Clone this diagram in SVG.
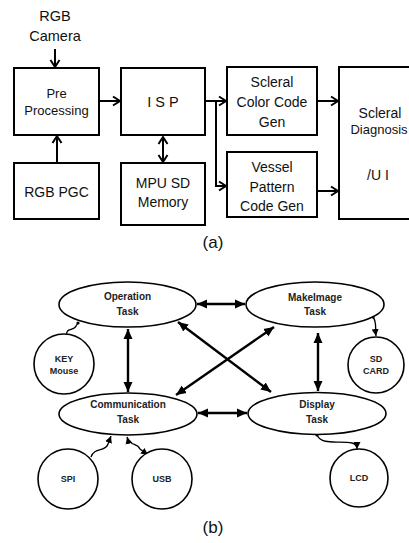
<svg xmlns="http://www.w3.org/2000/svg" width="409" height="543" viewBox="0 0 409 543">
<style>
.bx{fill:#fff;stroke:#000;stroke-width:2}
.ta{font-family:"Liberation Sans",Arial,sans-serif;font-size:13.5px;fill:#111;text-anchor:middle}
.cap{font-family:"Liberation Sans",Arial,sans-serif;font-size:17px;fill:#111;text-anchor:middle}
.ca{fill:none;stroke:#000;stroke-width:2}
.el{fill:#fff;stroke:#000;stroke-width:1.6}
.tb{font-family:"Liberation Sans",Arial,sans-serif;font-size:10px;font-weight:bold;fill:#222;text-anchor:middle}
.tbs{font-family:"Liberation Sans",Arial,sans-serif;font-size:9px;font-weight:bold;fill:#222;text-anchor:middle}
.cb{fill:none;stroke:#000;stroke-width:2.4}
.wv{fill:none;stroke:#000;stroke-width:1.3}
</style>
<defs>
<marker id="oa" markerUnits="userSpaceOnUse" markerWidth="12" markerHeight="12" refX="8" refY="5" orient="auto-start-reverse" viewBox="0 0 12 10">
<path d="M1,0.5 L8,5 L1,9.5" fill="none" stroke="#000" stroke-width="2"/>
</marker>
<marker id="fa" markerUnits="userSpaceOnUse" markerWidth="11" markerHeight="10" refX="10" refY="4.5" orient="auto-start-reverse" viewBox="0 0 11 9">
<path d="M0,0 L10,4.5 L0,9 Z" fill="#000"/>
</marker>
<marker id="sa" markerUnits="userSpaceOnUse" markerWidth="8" markerHeight="8" refX="7" refY="3.5" orient="auto-start-reverse" viewBox="0 0 8 7">
<path d="M0,0 L7,3.5 L0,7 Z" fill="#000"/>
</marker>
</defs>

<g id="connectors-a">
<line class="ca" x1="55" y1="49" x2="55" y2="67" marker-end="url(#oa)"/>
<line class="ca" x1="99" y1="101" x2="120" y2="101" marker-end="url(#oa)"/>
<line class="ca" x1="57" y1="163" x2="57" y2="136" marker-end="url(#oa)"/>
<line class="ca" x1="163" y1="137" x2="163" y2="162" marker-start="url(#oa)" marker-end="url(#oa)"/>
<line class="ca" x1="205" y1="101" x2="226" y2="101" marker-end="url(#oa)"/>
<polyline class="ca" points="216,101 216,186 226,186" marker-end="url(#oa)"/>
<line class="ca" x1="317" y1="101" x2="338" y2="101" marker-end="url(#oa)"/>
<line class="ca" x1="317" y1="191" x2="338" y2="191" marker-end="url(#oa)"/>
</g>

<g id="rgb-camera">
<text class="ta" x="55" y="21" style="font-size:14.5px">RGB</text>
<text class="ta" x="55" y="41" style="font-size:14.5px">Camera</text>
</g>
<g id="pre-processing">
<rect class="bx" x="14" y="68" width="85" height="67"/>
<text class="ta" x="56.5" y="98" style="font-size:13px">Pre</text>
<text class="ta" x="56.5" y="115" style="font-size:13px">Processing</text>
</g>
<g id="isp">
<rect class="bx" x="121" y="68" width="84" height="67"/>
<text class="ta" x="163" y="107" style="font-size:14.5px">I S P</text>
</g>
<g id="rgb-pgc">
<rect class="bx" x="14" y="163" width="85" height="56"/>
<text class="ta" x="56.5" y="197" style="font-size:14px">RGB PGC</text>
</g>
<g id="mpu-sd-memory">
<rect class="bx" x="121" y="163" width="84" height="62"/>
<text class="ta" x="163" y="188" style="font-size:14px">MPU SD</text>
<text class="ta" x="163" y="207" style="font-size:14px">Memory</text>
</g>
<g id="scleral-color">
<rect class="bx" x="227" y="67" width="90" height="68"/>
<text class="ta" x="272" y="87" style="font-size:14px">Scleral</text>
<text class="ta" x="272" y="107" style="font-size:14px">Color Code</text>
<text class="ta" x="272" y="127" style="font-size:14px">Gen</text>
</g>
<g id="vessel-pattern">
<rect class="bx" x="227" y="152" width="90" height="65"/>
<text class="ta" x="272" y="172" style="font-size:14px">Vessel</text>
<text class="ta" x="272" y="192" style="font-size:14px">Pattern</text>
<text class="ta" x="272" y="211" style="font-size:14px">Code Gen</text>
</g>
<g id="scleral-diagnosis">
<rect class="bx" x="339" y="67" width="80" height="152"/>
<text class="ta" x="380" y="118" style="font-size:14px">Scleral</text>
<text class="ta" x="379" y="134" style="font-size:13px">Diagnosis</text>
<text class="ta" x="378" y="180" style="font-size:14px">/U I</text>
</g>
<text class="cap" x="213" y="248">(a)</text>

<g id="connectors-b">
<line class="cb" x1="197" y1="304" x2="245" y2="304" marker-start="url(#fa)" marker-end="url(#fa)"/>
<line class="cb" x1="128" y1="329" x2="128" y2="392" marker-start="url(#fa)" marker-end="url(#fa)"/>
<line class="cb" x1="318" y1="333" x2="318" y2="391" marker-start="url(#fa)" marker-end="url(#fa)"/>
<line class="cb" x1="198" y1="413" x2="247" y2="413" marker-start="url(#fa)" marker-end="url(#fa)"/>
<line class="cb" x1="178" y1="322" x2="271" y2="392" marker-start="url(#fa)" marker-end="url(#fa)"/>
<line class="cb" x1="176" y1="395" x2="274" y2="327" marker-start="url(#fa)" marker-end="url(#fa)"/>
<path class="wv" d="M67,335 C65,328 74,331 76,326 L78,323"/>
<circle cx="78" cy="323" r="1.6"/>
<path class="wv" d="M373,317 C377,322 375,328 376,336" marker-end="url(#sa)"/>
<circle cx="373" cy="317" r="1.6"/>
<path class="wv" d="M91,457 C94,447 106,452 108,444 L111,436" marker-end="url(#sa)"/>
<path class="wv" d="M127,437 C130,447 137,442 140,449 L148,455" marker-start="url(#sa)" marker-end="url(#sa)"/>
<path class="wv" d="M317,435 C322,446 340,440 352,443 C356,444 357,446 357,449" marker-end="url(#sa)"/>
<circle cx="317" cy="435" r="1.6"/>
</g>

<g id="operation-task">
<ellipse class="el" cx="127.5" cy="304.5" rx="68.5" ry="22.5"/>
<text class="tb" x="127.5" y="300">Operation</text>
<text class="tb" x="127.5" y="315">Task</text>
</g>
<g id="makeimage-task">
<ellipse class="el" cx="315" cy="304.5" rx="69" ry="22.5"/>
<text class="tb" x="315" y="301">MakeImage</text>
<text class="tb" x="315" y="315">Task</text>
</g>
<g id="communication-task">
<ellipse class="el" cx="128" cy="414" rx="69" ry="21"/>
<text class="tb" x="128" y="408">Communication</text>
<text class="tb" x="128" y="423">Task</text>
</g>
<g id="display-task">
<ellipse class="el" cx="317" cy="413.5" rx="69" ry="21"/>
<text class="tb" x="317" y="408">Display</text>
<text class="tb" x="317" y="423">Task</text>
</g>
<g id="key-mouse">
<circle class="el" cx="64" cy="364" r="30"/>
<text class="tbs" x="64" y="362">KEY</text>
<text class="tbs" x="64" y="374">Mouse</text>
</g>
<g id="sd-card">
<circle class="el" cx="376" cy="365" r="28"/>
<text class="tbs" x="376" y="362">SD</text>
<text class="tbs" x="376" y="374">CARD</text>
</g>
<g id="spi">
<circle class="el" cx="68" cy="479" r="30"/>
<text class="tbs" x="68" y="482">SPI</text>
</g>
<g id="usb">
<circle class="el" cx="162" cy="479" r="30"/>
<text class="tbs" x="162" y="482">USB</text>
</g>
<g id="lcd">
<circle class="el" cx="359" cy="478" r="29"/>
<text class="tbs" x="359" y="481">LCD</text>
</g>
<text class="cap" x="213" y="533">(b)</text>
</svg>
